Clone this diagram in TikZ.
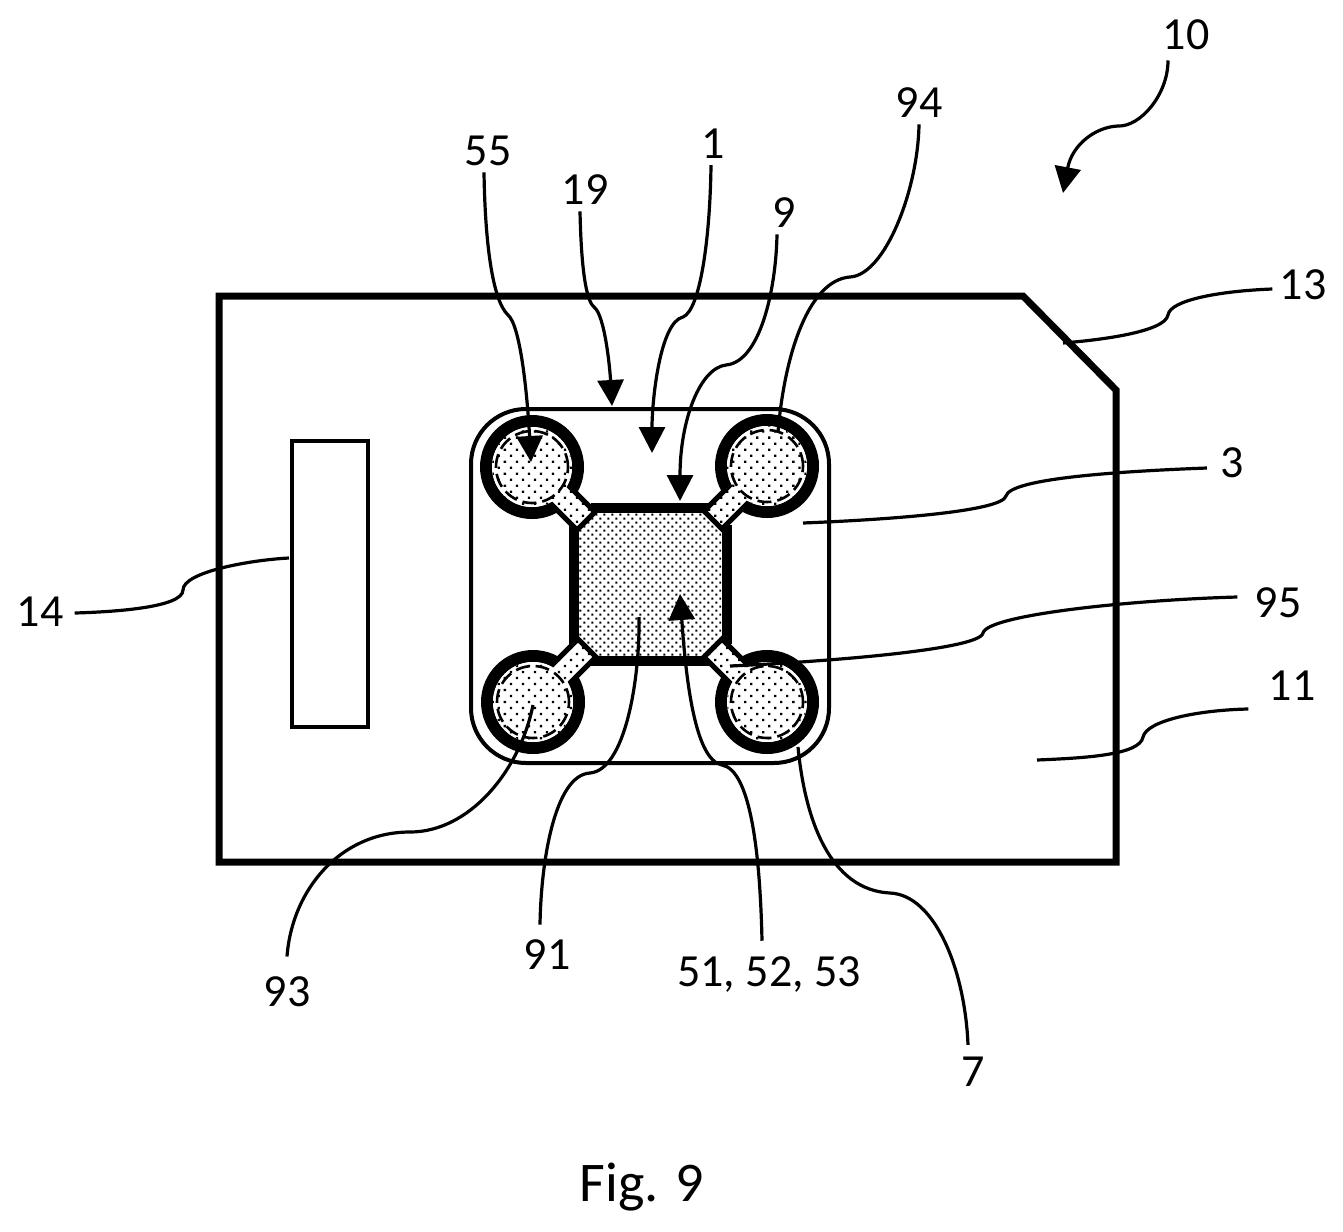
\documentclass[tikz,border=0pt]{standalone}
\usepackage{fontspec}
\setmainfont{Carlito}
\usetikzlibrary{arrows.meta,patterns.meta}
\tikzset{
  lab/.style={inner sep=2pt,font=\fontsize{23}{27}\selectfont},
  leader/.style={line width=1.6pt},
  pointer/.style={leader,-{Triangle[length=13pt,width=13pt]}},
  body/.style={line width=3.5pt},
  thinbox/.style={line width=2pt},
  sparsedots/.style={preaction={fill=white},pattern={Dots[distance=4.25pt,radius=.8pt,angle=45]}},
  densedots/.style={preaction={fill=white},pattern={Dots[distance=2.83pt,radius=.7pt,angle=45]}}
}
\begin{document}
\begin{tikzpicture}[x=0.5pt,y=-0.5pt]
\useasboundingbox (0,0) rectangle (1343,1231);
% card
\draw[body] (219,296) -- (1023,296) -- (1116,390) -- (1116,862) -- (219,862) -- cycle;
\draw[thinbox] (292,441) rectangle (368,727);
\draw[thinbox,rounded corners=27.5pt] (471,409) rectangle (829,763);
% chip
\fill[densedots] (593,513) -- (707,513) -- (721,527) -- (721,642) -- (707,656) -- (593,656) -- (579,642) -- (579,527) -- cycle;
\draw[line width=5pt] (591,508) -- (709,508);
\draw[line width=5pt] (591,661) -- (709,661);
\draw[line width=5pt] (574,525) -- (574,644);
\draw[line width=5pt] (727,525) -- (727,644);
% pads
\foreach \cx/\cy/\sx/\sy in {532/467/1/1,767/466/-1/1,533/702/1/-1,767/702/-1/-1}{
  \draw[line width=6pt] (\cx,\cy) circle[radius=46*0.5pt];
  \draw[line width=2.5pt,sparsedots] ({\cx+\sx*31},{\cy+\sy*13}) -- ({\cx+\sx*63},{\cy+\sy*45}) -- ({\cx+\sx*45},{\cy+\sy*63}) -- ({\cx+\sx*13},{\cy+\sy*31}) -- cycle;
  \fill[sparsedots] (\cx,\cy) circle[radius=40*0.5pt];
  \draw[line width=1.3pt,dash pattern=on 7pt off 3pt] (\cx,\cy) circle[radius=36*0.5pt];
}
% end points
\coordinate (p55) at (531,462);
\coordinate (p19) at (612,406);
\coordinate (p1) at (652,453);
\coordinate (p9) at (680,501);
\coordinate (p94) at (778,432);
\coordinate (p10) at (1063,193);
\coordinate (p13) at (1063,343);
\coordinate (p3) at (803,523);
\coordinate (p95) at (730,666);
\coordinate (p11) at (1037,760);
\coordinate (p14) at (289,558);
\coordinate (p93) at (533,705);
\coordinate (p91) at (639,617);
\coordinate (p51) at (680,594);
\coordinate (p7) at (798,747);
% labels
\node[lab] (n10) at (1186,35) {10};
\node[lab] (n55) at (488,151) {55};
\node[lab] (n19) at (585,190) {19};
\node[lab] (n1) at (713,144) {1};
\node[lab] (n94) at (919,103) {94};
\node[lab] (n9) at (784,213) {9};
\node[lab] (n13) at (1303,285) {13};
\node[lab] (n3) at (1232,463) {3};
\node[lab] (n95) at (1278,603) {95};
\node[lab] (n11) at (1292,686) {11};
\node[lab] (n14) at (40,612) {14};
\node[lab] (n93) at (287,992) {93};
\node[lab] (n91) at (547,955) {91};
\node[lab] (n51) at (769,975) {51, 52, 53};
\node[lab] (n7) at (973,1072) {7};
\node[lab,font=\fontsize{28}{32}\selectfont] (fig) at (642,1187) {Fig. 9};
% leaders
\draw[pointer] ([xshift=-9pt,yshift=-3pt]n10.south) .. controls (1168,95) and (1140,127) .. (1118,126) .. controls (1095,127) and (1072,145) .. (p10);
\draw[pointer] ([xshift=-2pt,yshift=-1pt]n55.south) .. controls (485,240) and (492,300) .. (508,315) .. controls (520,325) and (527,390) .. (p55);
\draw[pointer] ([xshift=-2.5pt,yshift=-1pt]n19.south) .. controls (581,260) and (585,300) .. (594,307) .. controls (605,315) and (610,370) .. (p19);
\draw[pointer] ([xshift=-1pt,yshift=-1pt]n1.south) .. controls (710,240) and (700,310) .. (683,317) .. controls (660,322) and (652,400) .. (p1);
\draw[pointer] ([xshift=-3.5pt,yshift=-1pt]n9.south) .. controls (776,290) and (760,362) .. (726,365) .. controls (700,368) and (680,420) .. (p9);
\draw[leader] ([yshift=-1pt]n94.south) .. controls (918,190) and (885,275) .. (850,277) .. controls (810,280) and (785,350) .. (p94);
\draw[leader] ([xshift=-1.5pt,yshift=-2pt]n13.west) .. controls (1220,291) and (1170,300) .. (1168,315) .. controls (1165,332) and (1100,340) .. (p13);
\draw[leader] ([xshift=-4.5pt,yshift=-2.5pt]n3.west) .. controls (1100,472) and (1010,480) .. (1006,496) .. controls (1002,512) and (880,520) .. (p3);
\draw[leader] ([xshift=-6.5pt,yshift=3pt]n95.west) .. controls (1130,600) and (987,615) .. (983,633) .. controls (980,650) and (820,662) .. (p95);
\draw[leader] ([xshift=-8pt,yshift=-11.5pt]n11.west) .. controls (1200,710) and (1147,720) .. (1143,737) .. controls (1140,755) and (1085,758) .. (p11);
\draw[leader] ([xshift=3.5pt,yshift=-.5pt]n14.east) .. controls (110,612) and (183,608) .. (183,590) .. controls (183,572) and (250,560) .. (p14);
\draw[leader] ([yshift=8pt]n93.north) .. controls (292,890) and (340,832) .. (410,832) .. controls (470,832) and (520,770) .. (p93);
\draw[leader] ([xshift=-3.5pt,yshift=5.5pt]n91.north) .. controls (541,860) and (555,775) .. (590,773) .. controls (625,770) and (640,680) .. (p91);
\draw[pointer] ([xshift=-3.5pt,yshift=6pt]n51.north) .. controls (760,850) and (750,770) .. (722,765) .. controls (695,760) and (686,680) .. (p51);
\draw[leader] ([xshift=-2.5pt,yshift=4pt]n7.north) .. controls (965,970) and (935,895) .. (890,893) .. controls (830,890) and (805,820) .. (p7);
\end{tikzpicture}
\end{document}
